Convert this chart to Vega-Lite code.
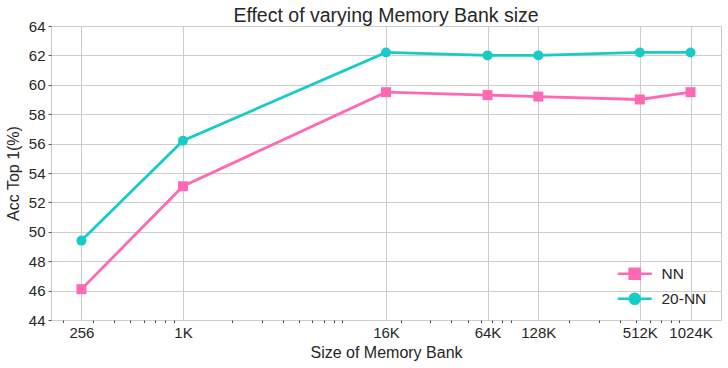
{
  "$schema": "https://vega.github.io/schema/vega-lite/v6.json",
  "autosize": {"type": "none"},
  "padding": {"left": 51, "top": 26, "right": 7, "bottom": 48},
  "width": 670,
  "height": 294,
  "title": {"text": "Effect of varying Memory Bank size", "fontSize": 19.5, "fontWeight": "normal", "color": "#262626", "offset": -7, "font": "Liberation Sans"},
  "data": {"values": [
    {"size": 256, "series": "NN", "acc": 46.1},
    {"size": 1024, "series": "NN", "acc": 53.1},
    {"size": 16384, "series": "NN", "acc": 59.5},
    {"size": 65536, "series": "NN", "acc": 59.3},
    {"size": 131072, "series": "NN", "acc": 59.2},
    {"size": 524288, "series": "NN", "acc": 59.0},
    {"size": 1048576, "series": "NN", "acc": 59.5},
    {"size": 256, "series": "20-NN", "acc": 49.4},
    {"size": 1024, "series": "20-NN", "acc": 56.2},
    {"size": 16384, "series": "20-NN", "acc": 62.2},
    {"size": 65536, "series": "20-NN", "acc": 62.0},
    {"size": 131072, "series": "20-NN", "acc": 62.0},
    {"size": 524288, "series": "20-NN", "acc": 62.2},
    {"size": 1048576, "series": "20-NN", "acc": 62.2}
  ]},
  "encoding": {
    "x": {
      "field": "size", "type": "quantitative",
      "scale": {"type": "log", "domain": [168.9, 1589062], "nice": false, "zero": false},
      "axis": {
        "title": "Size of Memory Bank",
        "values": [200,256,300,400,500,600,700,800,900,1024,2000,3000,4000,5000,6000,7000,8000,9000,16384,20000,30000,40000,50000,60000,65536,70000,80000,90000,131072,200000,300000,400000,500000,524288,600000,700000,800000,900000,1048576],
        "labelExpr": "indexof([256,1024,16384,65536,131072,524288,1048576], datum.value) >= 0 ? (datum.value >= 1024 ? format(datum.value/1024, 'd') + 'K' : format(datum.value, 'd')) : ''",
        "labelOverlap": false,
        "labelFlush": false,
        "labelFontSize": 15,
        "labelColor": "#262626",
        "labelPadding": 3,
        "tickSize": 2.5,
        "tickWidth": 0.8,
        "tickColor": "#262626",
        "tickOpacity": {"condition": {"test": "indexof([256,1024,16384,65536,131072,524288,1048576], datum.value) >= 0", "value": 0}, "value": 1},
        "gridOpacity": {"condition": {"test": "indexof([256,1024,16384,65536,131072,524288,1048576], datum.value) >= 0", "value": 1}, "value": 0},
        "titleFontSize": 16,
        "titleFontWeight": "normal",
        "titleColor": "#262626",
        "titlePadding": 4
      }
    },
    "y": {
      "field": "acc", "type": "quantitative",
      "scale": {"domain": [44, 64], "nice": false, "zero": false},
      "axis": {
        "title": "Acc Top 1(%)",
        "values": [44,46,48,50,52,54,56,58,60,62,64],
        "labelFontSize": 15,
        "labelColor": "#262626",
        "labelPadding": 3,
        "tickSize": 3,
        "tickWidth": 0.8,
        "tickColor": "#262626",
        "titleFontSize": 16,
        "titleFontWeight": "normal",
        "titleColor": "#262626",
        "titlePadding": 7
      }
    }
  },
  "layer": [
    {
      "mark": {"type": "line", "strokeWidth": 2.8},
      "encoding": {
        "color": {"field": "series", "type": "nominal", "scale": {"domain": ["NN", "20-NN"], "range": ["#ff69b4", "#17ccc8"]}, "legend": null}
      }
    },
    {
      "mark": {"type": "point", "filled": true, "opacity": 1, "size": 100},
      "encoding": {
        "color": {"field": "series", "type": "nominal", "scale": {"domain": ["NN", "20-NN"], "range": ["#ff69b4", "#17ccc8"]}, "legend": null},
        "shape": {"field": "series", "type": "nominal", "scale": {"domain": ["NN", "20-NN"], "range": ["square", "circle"]}, "legend": null}
      }
    },
    {
      "transform": [{"filter": "false"}],
      "mark": {"type": "point", "filled": true, "opacity": 1},
      "encoding": {
        "color": {"field": "series", "type": "nominal", "scale": {"domain": ["NN", "20-NN"], "range": ["#ff69b4", "#17ccc8"]},
          "legend": {"orient": "none", "legendX": 576, "legendY": 240, "title": null, "labelFontSize": 15.5, "labelColor": "#262626", "labelOffset": 19, "rowPadding": 3, "symbolSize": 100, "symbolStrokeWidth": 2.7, "symbolOpacity": 1}},
        "stroke": {"field": "series", "type": "nominal", "scale": {"domain": ["NN", "20-NN"], "range": ["#ff69b4", "#17ccc8"]},
          "legend": {"orient": "none", "legendX": 576, "legendY": 240, "title": null, "labelFontSize": 15.5, "labelColor": "#262626", "labelOffset": 19, "rowPadding": 3, "symbolSize": 100, "symbolStrokeWidth": 2.7, "symbolOpacity": 1}},
        "shape": {"field": "series", "type": "nominal", "scale": {"domain": ["NN", "20-NN"], "range": ["M-3.4,0L3.4,0M-1,-1L1,-1L1,1L-1,1Z", "M-3.4,0L3.4,0M1,0A1,1,0,1,1,-1,0A1,1,0,1,1,1,0Z"]},
          "legend": {"orient": "none", "legendX": 576, "legendY": 240, "title": null, "labelFontSize": 15.5, "labelColor": "#262626", "labelOffset": 19, "rowPadding": 3, "symbolSize": 100, "symbolStrokeWidth": 2.7, "symbolOpacity": 1}}
      }
    }
  ],
  "resolve": {"scale": {"color": "independent", "shape": "independent", "stroke": "independent"}},
  "config": {
    "font": "Liberation Sans",
    "view": {"stroke": "#cccccc", "strokeWidth": 1},
    "axis": {"domain": false, "gridColor": "#cccccc", "gridWidth": 1, "labelFont": "Liberation Sans", "titleFont": "Liberation Sans"},
    "legend": {"labelFont": "Liberation Sans"}
  }
}
